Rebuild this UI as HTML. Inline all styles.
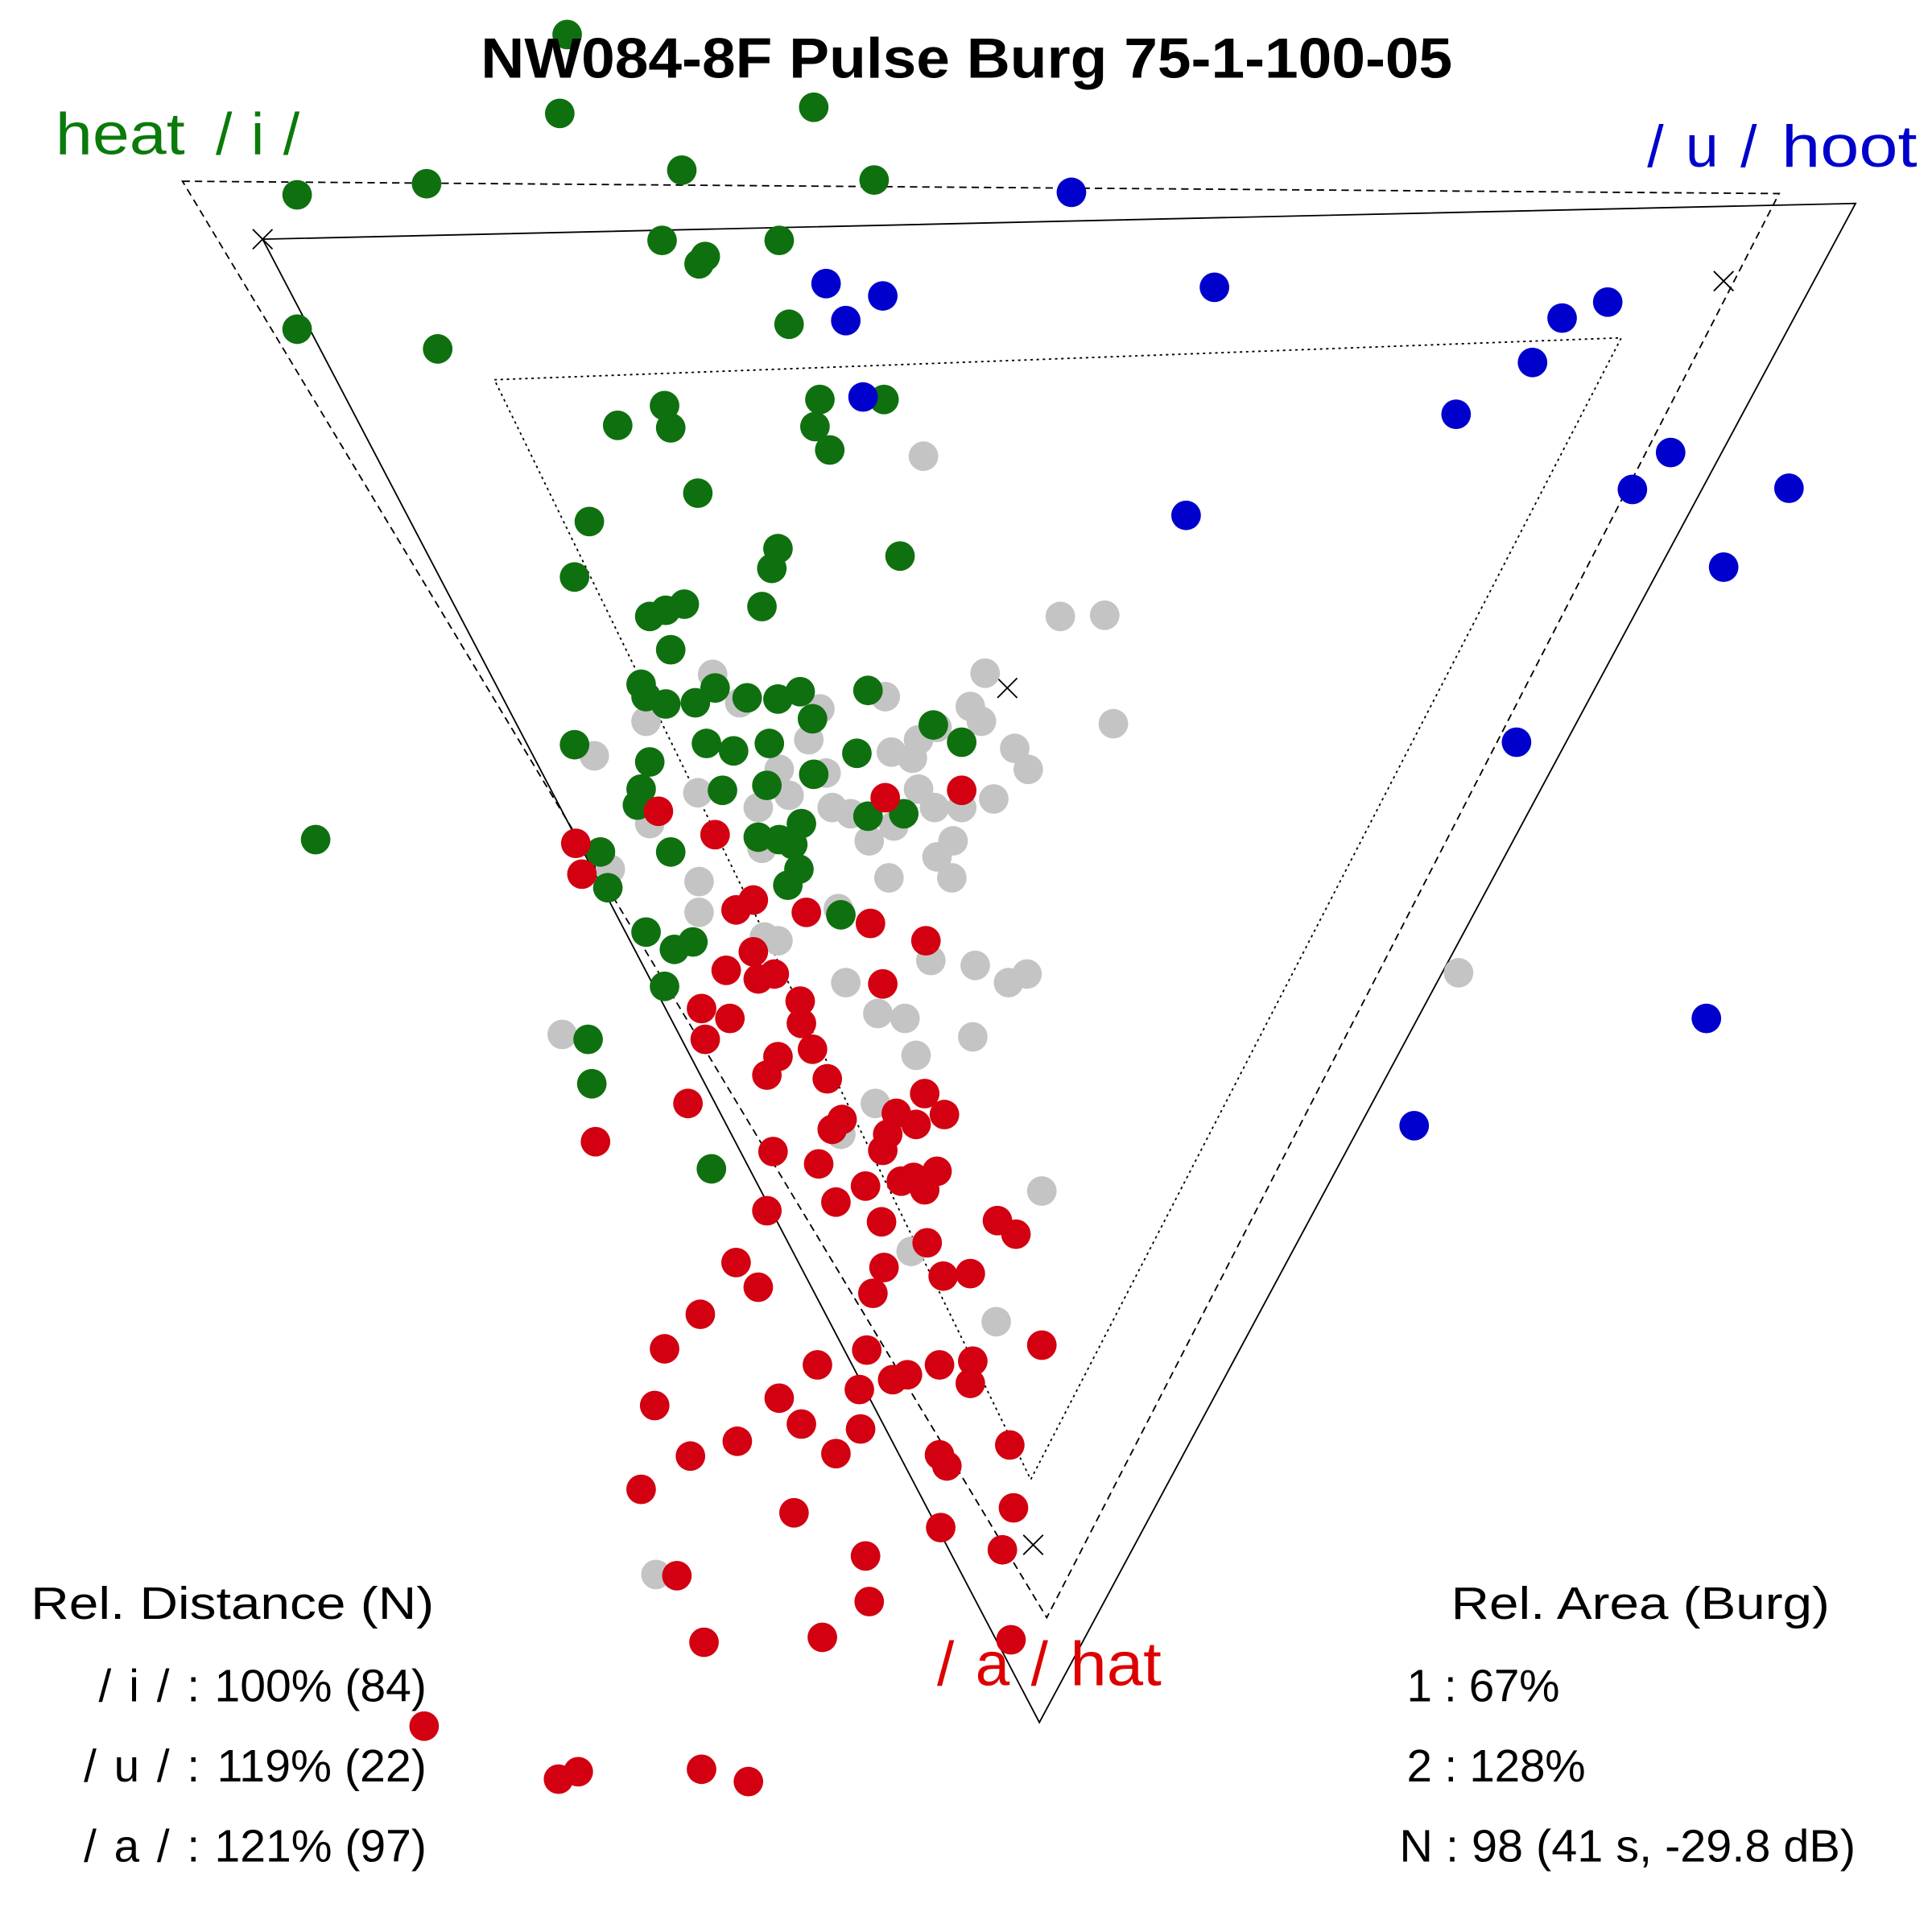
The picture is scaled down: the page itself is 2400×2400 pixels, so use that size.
<!DOCTYPE html>
<html><head><meta charset="utf-8"><style>html,body{margin:0;padding:0;background:#fff}svg{display:block}.a circle{fill:#c4c4c4}.g circle{fill:#0f700f}.b circle{fill:#0000cc}.r circle{fill:#d20010}</style></head>
<body>
<svg xmlns="http://www.w3.org/2000/svg" width="2400" height="2400" viewBox="0 0 1567 1567" font-family="Liberation Sans, sans-serif">
<rect width="1567" height="1567" fill="#fff"/>
<g fill="none" stroke="#000">
<polygon points="213,194 1505,165 843,1397" stroke-width="1.2"/>
<polygon points="148,147 1443,157 849,1312" stroke-width="1.2" stroke-dasharray="6,4"/>
<polygon points="401,308 1315,274 836,1200" stroke-width="1.2" stroke-dasharray="2,3"/>
<g stroke-width="1.2">
<path d="M205,186l16,16M221,186l-16,16"/>
<path d="M1390,220l16,16M1406,220l-16,16"/>
<path d="M809,550l16,16M825,550l-16,16"/>
<path d="M830,1245l16,16M846,1245l-16,16"/>
</g></g>
<g class="a">
<circle cx="749" cy="370" r="12"/><circle cx="860" cy="500" r="12"/><circle cx="896" cy="499" r="12"/><circle cx="578" cy="547" r="12"/><circle cx="799" cy="546" r="12"/><circle cx="718" cy="565" r="12"/><circle cx="600" cy="570" r="12"/><circle cx="665" cy="575" r="12"/><circle cx="787" cy="573" r="12"/><circle cx="796" cy="585" r="12"/><circle cx="903" cy="587" r="12"/><circle cx="524" cy="585" r="12"/><circle cx="656" cy="600" r="12"/><circle cx="723" cy="610" r="12"/><circle cx="740" cy="615" r="12"/><circle cx="760" cy="590" r="12"/><circle cx="745" cy="600" r="12"/><circle cx="823" cy="607" r="12"/><circle cx="834" cy="624" r="12"/><circle cx="482" cy="613" r="12"/><circle cx="632" cy="624" r="12"/><circle cx="670" cy="627" r="12"/><circle cx="566" cy="643" r="12"/><circle cx="615" cy="655" r="12"/><circle cx="640" cy="645" r="12"/><circle cx="675" cy="655" r="12"/><circle cx="690" cy="660" r="12"/><circle cx="725" cy="670" r="12"/><circle cx="758" cy="655" r="12"/><circle cx="780" cy="655" r="12"/><circle cx="806" cy="648" r="12"/><circle cx="745" cy="640" r="12"/><circle cx="527" cy="668" r="12"/><circle cx="705" cy="682" r="12"/><circle cx="618" cy="688" r="12"/><circle cx="773" cy="682" r="12"/><circle cx="760" cy="695" r="12"/><circle cx="495" cy="705" r="12"/><circle cx="567" cy="715" r="12"/><circle cx="721" cy="712" r="12"/><circle cx="772" cy="712" r="12"/><circle cx="567" cy="740" r="12"/><circle cx="680" cy="737" r="12"/><circle cx="631" cy="763" r="12"/><circle cx="755" cy="779" r="12"/><circle cx="791" cy="783" r="12"/><circle cx="686" cy="797" r="12"/><circle cx="818" cy="797" r="12"/><circle cx="833" cy="790" r="12"/><circle cx="712" cy="822" r="12"/><circle cx="734" cy="826" r="12"/><circle cx="456" cy="839" r="12"/><circle cx="789" cy="841" r="12"/><circle cx="743" cy="856" r="12"/><circle cx="710" cy="895" r="12"/><circle cx="845" cy="966" r="12"/><circle cx="739" cy="1015" r="12"/><circle cx="808" cy="1072" r="12"/><circle cx="1183" cy="789" r="12"/><circle cx="532" cy="1277" r="12"/><circle cx="682" cy="920" r="12"/><circle cx="620" cy="760" r="12"/>
</g>
<g class="g">
<circle cx="460" cy="28" r="12"/><circle cx="454" cy="92" r="12"/><circle cx="660" cy="87" r="12"/><circle cx="553" cy="138" r="12"/><circle cx="709" cy="146" r="12"/><circle cx="241" cy="158" r="12"/><circle cx="346" cy="149" r="12"/><circle cx="537" cy="195" r="12"/><circle cx="632" cy="195" r="12"/><circle cx="567" cy="214" r="12"/><circle cx="572" cy="208" r="12"/><circle cx="241" cy="267" r="12"/><circle cx="355" cy="283" r="12"/><circle cx="640" cy="263" r="12"/><circle cx="539" cy="329" r="12"/><circle cx="665" cy="324" r="12"/><circle cx="717" cy="324" r="12"/><circle cx="501" cy="345" r="12"/><circle cx="544" cy="347" r="12"/><circle cx="661" cy="346" r="12"/><circle cx="673" cy="365" r="12"/><circle cx="566" cy="400" r="12"/><circle cx="478" cy="423" r="12"/><circle cx="631" cy="445" r="12"/><circle cx="626" cy="461" r="12"/><circle cx="730" cy="451" r="12"/><circle cx="466" cy="468" r="12"/><circle cx="618" cy="492" r="12"/><circle cx="527" cy="500" r="12"/><circle cx="540" cy="495" r="12"/><circle cx="555" cy="490" r="12"/><circle cx="544" cy="527" r="12"/><circle cx="520" cy="555" r="12"/><circle cx="524" cy="565" r="12"/><circle cx="580" cy="558" r="12"/><circle cx="540" cy="571" r="12"/><circle cx="564" cy="570" r="12"/><circle cx="606" cy="566" r="12"/><circle cx="631" cy="567" r="12"/><circle cx="649" cy="561" r="12"/><circle cx="704" cy="560" r="12"/><circle cx="659" cy="583" r="12"/><circle cx="757" cy="588" r="12"/><circle cx="780" cy="602" r="12"/><circle cx="466" cy="604" r="12"/><circle cx="527" cy="618" r="12"/><circle cx="573" cy="603" r="12"/><circle cx="595" cy="609" r="12"/><circle cx="624" cy="603" r="12"/><circle cx="695" cy="611" r="12"/><circle cx="660" cy="628" r="12"/><circle cx="622" cy="637" r="12"/><circle cx="520" cy="640" r="12"/><circle cx="517" cy="653" r="12"/><circle cx="586" cy="641" r="12"/><circle cx="704" cy="662" r="12"/><circle cx="733" cy="660" r="12"/><circle cx="650" cy="668" r="12"/><circle cx="615" cy="679" r="12"/><circle cx="632" cy="681" r="12"/><circle cx="643" cy="685" r="12"/><circle cx="256" cy="681" r="12"/><circle cx="487" cy="691" r="12"/><circle cx="544" cy="691" r="12"/><circle cx="648" cy="705" r="12"/><circle cx="639" cy="718" r="12"/><circle cx="493" cy="720" r="12"/><circle cx="682" cy="742" r="12"/><circle cx="524" cy="756" r="12"/><circle cx="547" cy="770" r="12"/><circle cx="562" cy="764" r="12"/><circle cx="539" cy="800" r="12"/><circle cx="477" cy="843" r="12"/><circle cx="480" cy="879" r="12"/><circle cx="577" cy="948" r="12"/>
</g>
<g class="b">
<circle cx="869" cy="156" r="12"/><circle cx="670" cy="230" r="12"/><circle cx="716" cy="240" r="12"/><circle cx="686" cy="260" r="12"/><circle cx="985" cy="233" r="12"/><circle cx="1304" cy="245" r="12"/><circle cx="1267" cy="258" r="12"/><circle cx="1243" cy="294" r="12"/><circle cx="1181" cy="336" r="12"/><circle cx="700" cy="322" r="12"/><circle cx="1355" cy="367" r="12"/><circle cx="1324" cy="397" r="12"/><circle cx="1451" cy="396" r="12"/><circle cx="962" cy="418" r="12"/><circle cx="1398" cy="460" r="12"/><circle cx="1230" cy="602" r="12"/><circle cx="1384" cy="826" r="12"/><circle cx="1147" cy="913" r="12"/>
</g>
<g class="r">
<circle cx="780" cy="641" r="12"/><circle cx="718" cy="647" r="12"/><circle cx="534" cy="658" r="12"/><circle cx="580" cy="677" r="12"/><circle cx="467" cy="684" r="12"/><circle cx="472" cy="709" r="12"/><circle cx="611" cy="730" r="12"/><circle cx="597" cy="738" r="12"/><circle cx="654" cy="740" r="12"/><circle cx="706" cy="749" r="12"/><circle cx="751" cy="763" r="12"/><circle cx="611" cy="772" r="12"/><circle cx="589" cy="787" r="12"/><circle cx="628" cy="790" r="12"/><circle cx="615" cy="794" r="12"/><circle cx="716" cy="798" r="12"/><circle cx="649" cy="812" r="12"/><circle cx="569" cy="818" r="12"/><circle cx="592" cy="826" r="12"/><circle cx="650" cy="830" r="12"/><circle cx="572" cy="843" r="12"/><circle cx="659" cy="851" r="12"/><circle cx="631" cy="857" r="12"/><circle cx="622" cy="872" r="12"/><circle cx="671" cy="875" r="12"/><circle cx="558" cy="895" r="12"/><circle cx="750" cy="887" r="12"/><circle cx="727" cy="903" r="12"/><circle cx="766" cy="904" r="12"/><circle cx="683" cy="908" r="12"/><circle cx="675" cy="916" r="12"/><circle cx="743" cy="912" r="12"/><circle cx="720" cy="920" r="12"/><circle cx="716" cy="933" r="12"/><circle cx="627" cy="934" r="12"/><circle cx="483" cy="926" r="12"/><circle cx="664" cy="944" r="12"/><circle cx="760" cy="950" r="12"/><circle cx="741" cy="955" r="12"/><circle cx="731" cy="958" r="12"/><circle cx="750" cy="965" r="12"/><circle cx="702" cy="962" r="12"/><circle cx="678" cy="975" r="12"/><circle cx="622" cy="982" r="12"/><circle cx="715" cy="991" r="12"/><circle cx="809" cy="990" r="12"/><circle cx="824" cy="1001" r="12"/><circle cx="752" cy="1008" r="12"/><circle cx="717" cy="1028" r="12"/><circle cx="765" cy="1035" r="12"/><circle cx="787" cy="1033" r="12"/><circle cx="597" cy="1024" r="12"/><circle cx="615" cy="1044" r="12"/><circle cx="708" cy="1049" r="12"/><circle cx="568" cy="1066" r="12"/><circle cx="845" cy="1091" r="12"/><circle cx="539" cy="1094" r="12"/><circle cx="703" cy="1095" r="12"/><circle cx="663" cy="1107" r="12"/><circle cx="736" cy="1115" r="12"/><circle cx="724" cy="1119" r="12"/><circle cx="762" cy="1107" r="12"/><circle cx="789" cy="1104" r="12"/><circle cx="787" cy="1122" r="12"/><circle cx="697" cy="1127" r="12"/><circle cx="531" cy="1140" r="12"/><circle cx="632" cy="1134" r="12"/><circle cx="650" cy="1155" r="12"/><circle cx="698" cy="1159" r="12"/><circle cx="598" cy="1169" r="12"/><circle cx="560" cy="1181" r="12"/><circle cx="678" cy="1179" r="12"/><circle cx="762" cy="1180" r="12"/><circle cx="768" cy="1189" r="12"/><circle cx="819" cy="1172" r="12"/><circle cx="520" cy="1208" r="12"/><circle cx="644" cy="1227" r="12"/><circle cx="822" cy="1223" r="12"/><circle cx="763" cy="1239" r="12"/><circle cx="702" cy="1262" r="12"/><circle cx="813" cy="1257" r="12"/><circle cx="549" cy="1278" r="12"/><circle cx="705" cy="1299" r="12"/><circle cx="571" cy="1332" r="12"/><circle cx="667" cy="1328" r="12"/><circle cx="820" cy="1330" r="12"/><circle cx="344" cy="1400" r="12"/><circle cx="453" cy="1443" r="12"/><circle cx="469" cy="1437" r="12"/><circle cx="569" cy="1435" r="12"/><circle cx="607" cy="1445" r="12"/>
</g>
<text x="390" y="63" font-size="46" font-weight="bold" textLength="788" lengthAdjust="spacingAndGlyphs">NW084-8F Pulse Burg 75-1-100-05</text>
<g font-size="48">
<text x="45" y="125" fill="#0a7a0a" textLength="105" lengthAdjust="spacingAndGlyphs">heat</text>
<text x="175" y="125" fill="#0a7a0a" textLength="68">/i/</text>
<text x="1336" y="135" fill="#0000cc" textLength="89">/u/</text>
<text x="1445" y="135" fill="#0000cc" textLength="110" lengthAdjust="spacingAndGlyphs">hoot</text>
<text x="760" y="1367" fill="#dd0000" textLength="90" font-size="50">/a/</text>
<text x="868" y="1367" fill="#dd0000" textLength="74" font-size="50" lengthAdjust="spacingAndGlyphs">hat</text>
</g>
<g font-size="37">
<text x="25" y="1313" textLength="327" lengthAdjust="spacingAndGlyphs">Rel. Distance (N)</text>
<text x="174" y="1380" textLength="172" lengthAdjust="spacingAndGlyphs">100% (84)</text>
<text x="176" y="1445" textLength="170" lengthAdjust="spacingAndGlyphs">119% (22)</text>
<text x="174" y="1510" textLength="172" lengthAdjust="spacingAndGlyphs">121% (97)</text>
<text x="1177" y="1313" textLength="307" lengthAdjust="spacingAndGlyphs">Rel. Area (Burg)</text>
<text x="1141" y="1380" textLength="124">1 : 67%</text>
<text x="1141" y="1445" textLength="145">2 : 128%</text>
<text x="1135" y="1510" textLength="370" lengthAdjust="spacingAndGlyphs">N : 98 (41 s, -29.8 dB)</text>
<text x="80" y="1380" textLength="82">/i/:</text>
<text x="68" y="1445" textLength="94">/u/:</text>
<text x="68" y="1510" textLength="94">/a/:</text>
</g>
</svg>
</body></html>
